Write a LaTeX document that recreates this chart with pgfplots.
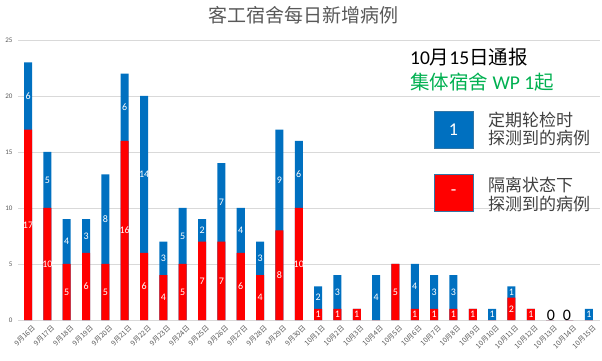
\documentclass[border=0pt]{standalone}
\usepackage{fontspec}
\setmainfont{Carlito}
\newfontfamily\cjk{Noto Sans CJK SC}
\usepackage{pgfplots}
\pgfplotsset{compat=1.18}
\usepackage{pgfplotstable}
\definecolor{xblue}{HTML}{0070C0}
\definecolor{xred}{HTML}{FF0000}
\definecolor{xgreen}{HTML}{00B050}
\definecolor{xgray}{HTML}{595959}
\definecolor{xgrid}{HTML}{D9D9D9}
\newcommand\zh[1]{{\cjk #1}}
\pgfplotstableread{
x r b tot
0 17 6 23
1 10 5 15
2 5 4 9
3 6 3 9
4 5 8 13
5 16 6 22
6 6 14 20
7 4 3 7
8 5 5 10
9 7 2 9
10 7 7 14
11 6 4 10
12 4 3 7
13 8 9 17
14 10 6 16
15 1 2 3
16 1 3 4
17 1 0 1
18 0 4 4
19 5 0 5
20 1 4 5
21 1 3 4
22 1 3 4
23 1 0 1
24 0 1 1
25 2 1 3
26 1 0 1
27 0 0 0
28 0 0 0
29 0 1 1
}\data
\begin{document}
\begin{tikzpicture}
\begin{axis}[
  at={(0,0)}, anchor=south west,
  scale only axis, width=582pt, height=280pt,
  xmin=-0.52, xmax=29.58, ymin=0, ymax=25,
  ytick={0,5,...,25},
  ymajorgrids, grid style={xgrid, line width=0.8pt},
  axis line style={draw=none},
  major tick length=0pt,
  /pgf/number format/assume math mode=true,
  xtick={0,...,29},
  xticklabels={9月16日,9月17日,9月18日,9月19日,9月20日,9月21日,9月22日,9月23日,9月24日,9月25日,9月26日,9月27日,9月28日,9月29日,9月30日,10月1日,10月2日,10月3日,10月4日,10月5日,10月6日,10月7日,10月8日,10月9日,10月10日,10月11日,10月12日,10月13日,10月14日,10月15日},
  x tick label style={rotate=45, anchor=north east, font=\cjk\fontsize{7}{8}\selectfont, text=xgray, inner sep=0.5pt, yshift=-5pt},
  y tick label style={font=\fontsize{7}{8}\selectfont, text=xgray, xshift=-2pt},
  clip=false,
]
\addplot[ybar, bar width=8pt, bar shift=0pt, fill=xblue, draw=none] table[x=x, y=tot]{\data};
\addplot[ybar, bar width=8pt, bar shift=0pt, fill=xred, draw=none] table[x=x, y=r]{\data};
\addplot[draw=none, mark=none, nodes near coords, point meta=\thisrow{r},
  restrict expr to domain={\thisrow{r}}{0.5:100},
  every node near coord/.style={anchor=center, text=white, font=\fontsize{10}{11}\selectfont, inner sep=0pt}]
  table[x=x, y expr=\thisrow{r}/2]{\data};
\addplot[draw=none, mark=none, nodes near coords, point meta=\thisrow{b},
  restrict expr to domain={\thisrow{b}}{0.5:100},
  every node near coord/.style={anchor=center, text=white, font=\fontsize{10}{11}\selectfont, inner sep=0pt}]
  table[x=x, y expr=\thisrow{r}+\thisrow{b}/2]{\data};
\node[font=\fontsize{16}{17}\selectfont, inner sep=0pt] at (axis cs:27.04,0.45) {0};
\node[font=\fontsize{16}{17}\selectfont, inner sep=0pt] at (axis cs:27.87,0.45) {0};
% title
\node[font=\cjk\fontsize{19}{20}\selectfont, text=xgray] at (axis description cs:0.49,1.089) {客工宿舍每日新增病例};
% annotation
\node[anchor=west, inner sep=0pt, font=\fontsize{19.5}{21}\selectfont] at (axis description cs:0.6735,0.939) {10\zh{月}15\zh{日通报}};
\node[anchor=west, inner sep=0pt, font=\fontsize{19.5}{21}\selectfont, text=xgreen] at (axis description cs:0.6735,0.85) {\zh{集体宿舍} WP 1\zh{起}};
% legend boxes
\node[fill=xblue, draw=xblue!60!gray, minimum width=39pt, minimum height=37pt, inner sep=0pt, text=white, font=\fontsize{18}{19}\selectfont] at (axis description cs:0.7483,0.680) {1};
\node[fill=xred, draw=xblue!60!gray, minimum width=39pt, minimum height=37pt, inner sep=0pt, text=white, font=\fontsize{18}{19}\selectfont] at (axis description cs:0.7483,0.4536) {-};
\node[anchor=west, inner sep=0pt, align=left, font=\cjk\fontsize{17}{18.5}\selectfont, text=black!75] at (axis description cs:0.8076,0.682) {定期轮检时\\探测到的病例};
\node[anchor=west, inner sep=0pt, align=left, font=\cjk\fontsize{17}{18.5}\selectfont, text=black!75] at (axis description cs:0.8076,0.448) {隔离状态下\\探测到的病例};
\end{axis}
\pgfresetboundingbox
\path[use as bounding box] (-18pt,-41pt) rectangle (584pt,320pt);
\end{tikzpicture}
\end{document}
